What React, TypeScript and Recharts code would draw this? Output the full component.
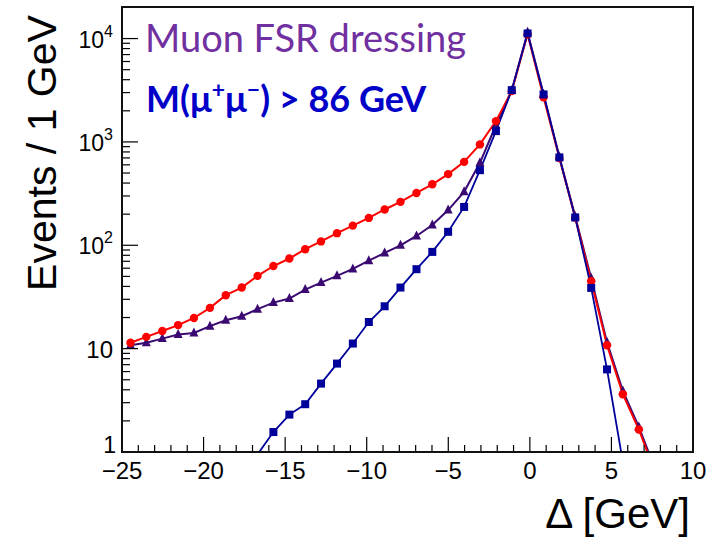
import { Line, LineChart, XAxis, YAxis } from "recharts";

// Δ positions of the points (GeV)
const X_POS = [
  -24.48, -23.51, -22.53, -21.56, -20.59, -19.61, -18.64, -17.66, -16.69, -15.72,
  -14.74, -13.77, -12.8, -11.82, -10.85, -9.87, -8.9, -7.93, -6.95, -5.98,
  -5.01, -4.03, -3.06, -2.08, -1.11, -0.14, 0.84, 1.81, 2.78, 3.76,
  4.73, 5.7, 6.68, 7.65,
];

// red circles
const RED = [
  11.4, 13.0, 14.8, 16.9, 19.8, 24.8, 32.9, 39.0, 50.6, 63,
  74.5, 91.6, 109, 131, 155, 184, 222, 263, 321, 389,
  488, 641, 946, 1590, 3100, 11000, 2700, 700, 185, 44.9,
  10.8, 3.62, 1.65, 0.65,
];

// purple triangles
const TRIANGLE = [
  10.8, 11.4, 12.5, 13.7, 14.2, 16.5, 18.8, 20.6, 24.1, 27.9,
  30.5, 37.3, 43.6, 50.6, 59, 71, 84.4, 100, 123, 157,
  219, 329, 628, 1450, 3150, 11500, 2900, 720, 190, 48,
  11.5, 3.9, 1.75, 0.7,
];

// blue squares
const SQUARE = [
  null, null, null, null, null, null, null, null, 0.95, 1.56,
  2.3, 2.9, 4.59, 7.17, 11.2, 18.1, 25.7, 39, 58.7, 86.3,
  135, 235, 533, 1273, 3170, 11200, 2880, 708, 186, 38.7,
  6.3, 0.8, null, null,
];

const X_TICKS = Array.from({ length: 36 }, (_, i) => i - 25);
const Y_TICKS = [1, 10, 100, 1000].flatMap((d) => [1, 2, 3, 4, 5, 6, 7, 8, 9].map((m) => m * d)).concat([10000, 20000]);

const RED_C = "#ff0000";
const PURPLE_C = "#3a0a72";
const BLUE_C = "#00009a";
const AXIS_FONT = "'Liberation Sans', Arial, sans-serif";

const data = X_POS.map((x, i) => ({ x, red: RED[i], tri: TRIANGLE[i], sq: SQUARE[i] }));

const fmtX = (v: number) => (v < 0 ? `\u2212${-v}` : `${v}`);

const XTick = ({ x, y, payload }: any) => {
  const v = payload.value as number;
  const major = v % 5 === 0;
  return (
    <g>
      <line x1={x} x2={x} y1={y} y2={y - (major ? 15 : 7)} stroke="#000" strokeWidth={1.2} />
      {major && (
        <text x={x} y={y + 27} textAnchor="middle" fontSize={24} fontFamily={AXIS_FONT} fill="#000">
          {fmtX(v)}
        </text>
      )}
    </g>
  );
};

const YTick = ({ x, y, payload }: any) => {
  const v = payload.value as number;
  const exp = Math.log10(v);
  const major = Math.abs(exp - Math.round(exp)) < 1e-9;
  let label = null;
  if (major && v === 1) {
    label = (
      <text x={x - 6} y={y + 1} textAnchor="end" fontSize={23} fontFamily={AXIS_FONT}>1</text>
    );
  } else if (major && v === 10) {
    label = (
      <text x={x - 9} y={y + 9} textAnchor="end" fontSize={24} fontFamily={AXIS_FONT}>10</text>
    );
  } else if (major) {
    label = (
      <text x={x - 9} y={y + 9} textAnchor="end" fontSize={23} fontFamily={AXIS_FONT}>
        10<tspan fontSize={16} dy={-11}>{Math.round(exp)}</tspan>
      </text>
    );
  }
  return (
    <g>
      {v < 20000 && (
        <line x1={x} x2={x + (major ? 16 : 8)} y1={y} y2={y} stroke="#000" strokeWidth={1.2} />
      )}
      {label}
    </g>
  );
};

const makeDot = (key: "red" | "tri" | "sq") => (props: any) => {
  const { cx, cy, index, payload } = props;
  const v = payload?.[key];
  if (v == null || v < 1 || cx == null || cy == null) return <g key={`${key}-${index}`} />;
  if (key === "red") return <circle key={`${key}-${index}`} cx={cx} cy={cy} r={4.2} fill={RED_C} />;
  if (key === "sq")
    return <rect key={`${key}-${index}`} x={cx - 4} y={cy - 4} width={8} height={8} fill={BLUE_C} />;
  return (
    <polygon
      key={`${key}-${index}`}
      points={`${cx},${cy - 5.5} ${cx - 4.5},${cy + 3.5} ${cx + 4.5},${cy + 3.5}`}
      fill={PURPLE_C}
    />
  );
};

export default function App() {
  return (
    <div style={{ position: "absolute", left: 0, top: 0, width: 718, height: 538, background: "#fff" }}>
      <LineChart width={718} height={538} data={data} margin={{ top: 7, right: 25, bottom: 0, left: 0 }}>
        <XAxis
          dataKey="x"
          type="number"
          domain={[-25, 10]}
          ticks={X_TICKS}
          interval={0}
          height={86}
          tickSize={0}
          tickMargin={0}
          tickLine={false}
          axisLine={false}
          tick={<XTick />}
          allowDataOverflow
        />
        <YAxis
          scale="log"
          domain={[1, 20200]}
          ticks={Y_TICKS}
          interval={0}
          width={122}
          tickSize={0}
          tickMargin={0}
          tickLine={false}
          axisLine={false}
          tick={<YTick />}
          allowDataOverflow
        />
        <Line
          dataKey="tri"
          type="linear"
          stroke={PURPLE_C}
          strokeWidth={2}
          dot={makeDot("tri")}
          activeDot={false}
          isAnimationActive={false}
        />
        <Line
          dataKey="red"
          type="linear"
          stroke={RED_C}
          strokeWidth={2}
          dot={makeDot("red")}
          activeDot={false}
          isAnimationActive={false}
        />
        <Line
          dataKey="sq"
          type="linear"
          stroke={BLUE_C}
          strokeWidth={1.8}
          dot={makeDot("sq")}
          activeDot={false}
          isAnimationActive={false}
        />
      </LineChart>
      <svg
        width={718}
        height={538}
        style={{ position: "absolute", left: 0, top: 0, pointerEvents: "none" }}
      >
        <rect x={122} y={7} width={571} height={445} fill="none" stroke="#111" strokeWidth={2} />
        <text x={145} y={52} fontSize={38} fontFamily="Lato, 'Open Sans', sans-serif" fill="#7030a0">
          Muon FSR dressing
        </text>
        <text x={146} y={112} fontSize={36} fontWeight="bold" fontFamily="Lato, 'Open Sans', sans-serif" fill="#0000c8">
          M(μ<tspan fontSize={23} dy={-14}>+</tspan>
          <tspan dy={14}>μ</tspan>
          <tspan fontSize={23} dy={-14}>−</tspan>
          <tspan dy={14}>) &gt; 86 GeV</tspan>
        </text>
        <text
          x={56}
          y={153}
          transform="rotate(-90 56 153)"
          textAnchor="middle"
          fontSize={41}
          fontFamily={AXIS_FONT}
          fill="#000"
        >
          Events / 1 GeV
        </text>
        <text x={690} y={528} textAnchor="end" fontSize={42} fontFamily={AXIS_FONT} fill="#000">
          Δ [GeV]
        </text>
      </svg>
    </div>
  );
}
